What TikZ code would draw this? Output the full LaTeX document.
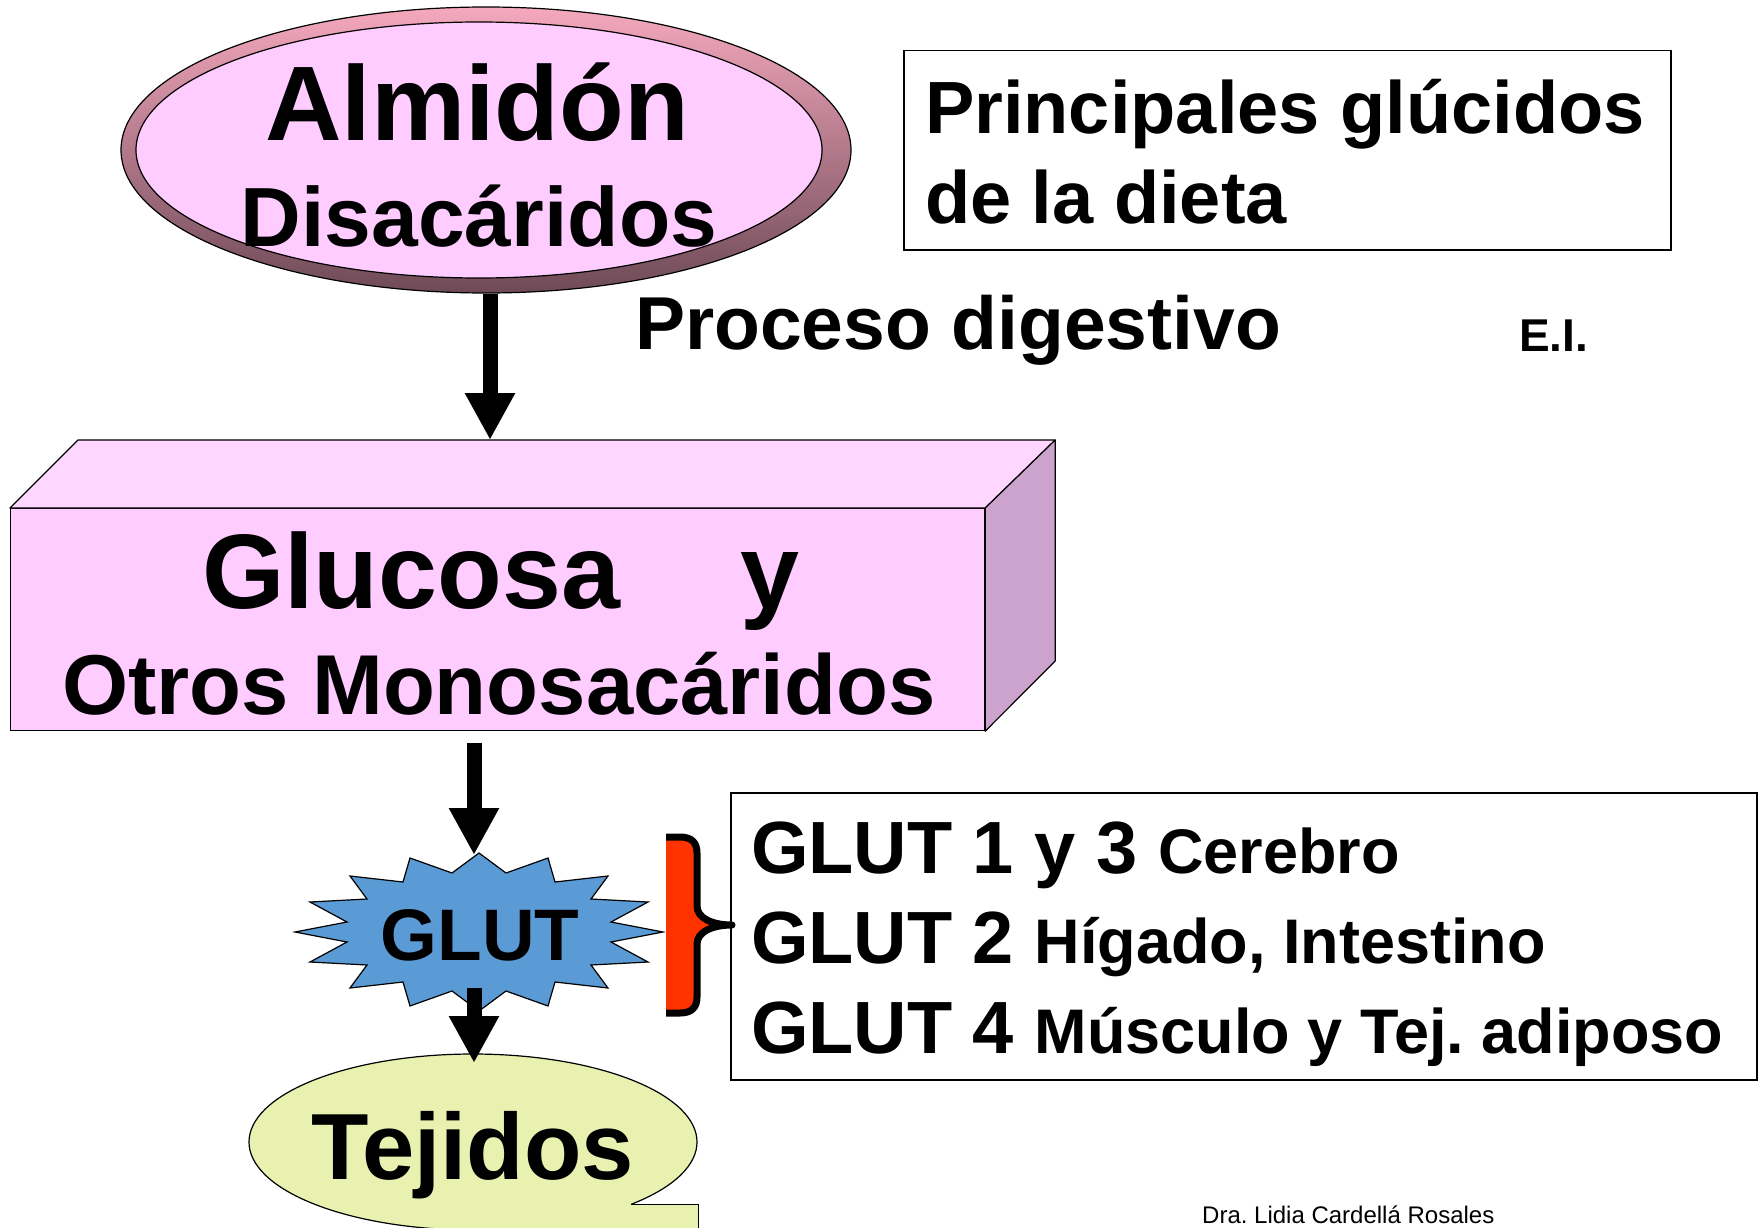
\documentclass[tikz,border=0pt]{standalone}
\usepackage{fontspec}
\setmainfont{Liberation Sans}
\usetikzlibrary{shapes.geometric,arrows.meta,calc}
\definecolor{pinkfill}{HTML}{FFCCFF}
\definecolor{pinktop}{HTML}{FFD6FF}
\definecolor{pinkside}{HTML}{CCA3CC}
\definecolor{ringtop}{HTML}{F5A8BE}
\definecolor{ringbot}{HTML}{6E4A57}
\definecolor{starblue}{HTML}{5B9BD5}
\definecolor{bracered}{HTML}{FF3300}
\definecolor{tejfill}{HTML}{E8F1B0}
\newcommand{\fsz}[1]{\fontsize{#1}{#1}\selectfont}
\frenchspacing
\begin{document}
\frenchspacing
\begin{tikzpicture}[x=1pt,y=-1pt,
  lbl/.style={inner sep=0pt, outer sep=0pt, anchor=base west, font=\bfseries},
  bigarrow/.style={line width=15pt, -{Triangle[width=47pt,length=47pt]}},
  frame/.style={draw=black, line width=1.5pt, inner sep=0pt},
  outl/.style={draw=black, line width=1.2pt}]
\useasboundingbox (0,0) rectangle (1758,1228);
\clip (0,0) rectangle (1758,1228);
\fill[white] (0,0) rectangle (1758,1228);

% top ellipse
\node[ellipse, outl, top color=ringtop, bottom color=ringbot, minimum width=730pt, minimum height=286pt, inner sep=0pt] (ring) at (486,150) {};
\node[ellipse, outl, fill=pinkfill, minimum width=686pt, minimum height=256pt, inner sep=0pt] (almidon) at (479,150) {};
\node[lbl, anchor=base, font=\bfseries\fsz{106}] (talm) at (477,140) {Almidón};
\node[lbl, anchor=base, font=\bfseries\fsz{84}] (tdis) at (479,246) {Disacáridos};

% right top box
\node[frame, minimum width=767pt, minimum height=199pt, anchor=north west] (pbox) at (903,50) {};
\node[lbl, font=\bfseries\fsz{74}] (p1) at (925,133) {Principales glúcidos};
\node[lbl, font=\bfseries\fsz{74}] (p2) at (925,223) {de la dieta};

\node[lbl, font=\bfseries\fsz{75}] (proc) at (635,349) {Proceso digestivo};
\node[lbl, font=\bfseries\fsz{46}] (ei) at (1519,351) {E.I.};

% 3D box
\node[draw=black, line width=1.2pt, fill=pinkfill, minimum width=974pt, minimum height=222pt, inner sep=0pt, anchor=north west] (gluc) at (10,508) {};
\filldraw[fill=pinktop, draw=black, line width=1.2pt, line join=round] (gluc.north west) -- ++(68,-68) -- ($(gluc.north east)+(70,-68)$) -- (gluc.north east) -- cycle;
\filldraw[fill=pinkside, draw=black, line width=1.2pt, line join=round] (gluc.north east) -- ++(70,-68) -- ++(0,221) -- (gluc.south east) -- cycle;
\node[lbl, font=\bfseries\fsz{106}] (tglu) at (202,608) {Glucosa};
\node[lbl, font=\bfseries\fsz{106}] (ty) at (740,608) {y};
\node[lbl, font=\bfseries\fsz{85}] (totros) at (62,714) {Otros Monosacáridos};

% arrow 1
\coordinate (a1e) at (490,440);
\draw[bigarrow] (ring.south -| a1e) -- (a1e);

% star
\coordinate (glutc) at (479,932);
\filldraw[fill=starblue, draw=black, line width=1.2pt, shift={(glutc)}]
 (0,-79) -- (27,-59) -- (69,-74) -- (76,-50) -- (129,-56) -- (112,-33) -- (169,-30) -- (132,-10) -- (184,0)
 -- (132,10) -- (169,30) -- (112,33) -- (129,56) -- (76,50) -- (69,74) -- (27,59) -- (0,79)
 -- (-27,59) -- (-69,74) -- (-76,50) -- (-129,56) -- (-112,33) -- (-169,30) -- (-132,10) -- (-184,0)
 -- (-132,-10) -- (-169,-30) -- (-112,-33) -- (-129,-56) -- (-76,-50) -- (-69,-74) -- (-27,-59) -- cycle;
\node[lbl, anchor=base, font=\bfseries\fsz{73}] (tglut) at (480,960) {GLUT};

% Tejidos callout
\coordinate (tejc) at (473,1142);
\coordinate (tejp) at ($(tejc)+(45:224 and 88)$);
\fill[tejfill] (tejc) ellipse [x radius=224, y radius=88];
\fill[tejfill] (tejp) -- ++(67,0) -- ++(0,60) -- (470,1264) -- (470,1229) -- cycle;
\draw[black, line width=1.2pt] (tejp) arc[start angle=45, end angle=-265, x radius=224, y radius=88];
\draw[black, line width=1.2pt] (tejp) -- ++(67,0) -- ++(0,60);
\node[lbl, anchor=base, font=\bfseries\fsz{94}] (ttej) at (473,1179) {Tejidos};

% arrows 2 and 3
\coordinate (a2s) at (474,743);
\coordinate (a2e) at (474,855);
\draw[bigarrow] (a2s) -- (a2e);
\coordinate (a3s) at (474,988);
\coordinate (a3e) at (474,1063);
\draw[bigarrow] (a3s) -- (a3e);

% brace
\fill[bracered] (666,837) -- (680,837) .. controls (692,837) and (697,843) .. (697,853) -- (697,906) .. controls (697,918) and (712,925) .. (732,925) .. controls (712,925) and (697,932) .. (697,944) -- (697,997) .. controls (697,1007) and (692,1013) .. (680,1013) -- (666,1013) -- cycle;
\draw[black, line width=7pt, line join=round, line cap=butt] (666,837) -- (680,837) .. controls (692,837) and (697,843) .. (697,853) -- (697,906) .. controls (697,918) and (712,925) .. (732,925) .. controls (712,925) and (697,932) .. (697,944) -- (697,997) .. controls (697,1007) and (692,1013) .. (680,1013) -- (666,1013);

% GLUT box
\node[frame, minimum width=1026pt, minimum height=287pt, anchor=north west] (gbox) at (730,792) {};
\node[lbl, font=\bfseries\fsz{74}] (g1) at (751,873) {GLUT 1 y 3 {\fsz{63}Cerebro}};
\node[lbl, font=\bfseries\fsz{74}] (g2) at (751,963) {GLUT 2 {\fsz{63}Hígado, Intestino}};
\node[lbl, font=\bfseries\fsz{74}] (g3) at (751,1053) {GLUT 4 {\fsz{63}Músculo y Tej. adiposo}};

% footer
\node[inner sep=0pt, anchor=base west, font=\fsz{24}] (foot) at (1202,1223) {Dra. Lidia Cardellá Rosales};
\end{tikzpicture}
\end{document}
